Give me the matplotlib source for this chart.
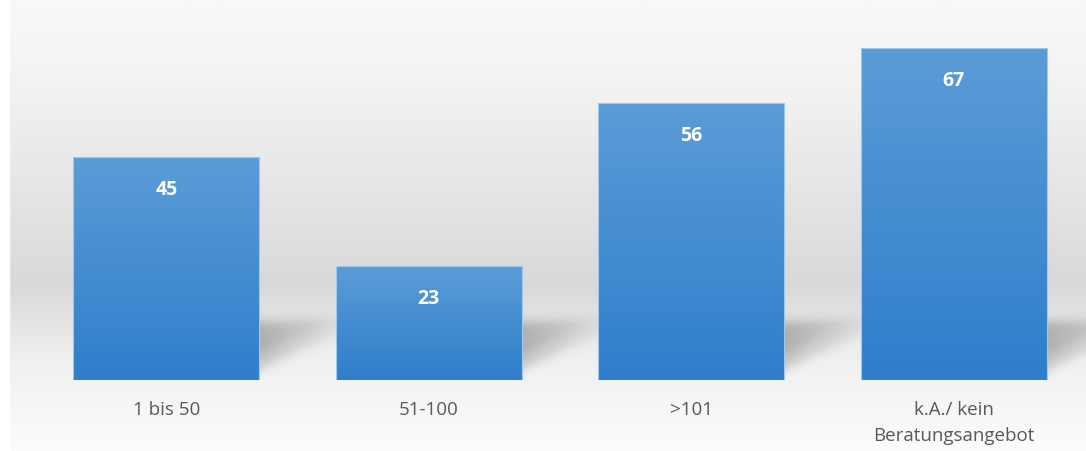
import numpy as np
import matplotlib
matplotlib.use("Agg")
import matplotlib.pyplot as plt
from matplotlib.colors import LinearSegmentedColormap

plt.rcParams["font.family"] = ["Open Sans", "DejaVu Sans"]

# data
categories = ["1 bis 50", "51-100", ">101", "k.A./ kein\nBeratungsangebot"]
values = [45, 23, 56, 67]

fig = plt.figure(figsize=(10.86, 4.51), dpi=100)

# background gradient (whole figure)
bg = fig.add_axes([0, 0, 1, 1], zorder=0)
bg_stops = [(0.0, "#f9f9f9"), (0.22, "#f1f1f1"), (0.63, "#d9d9d9"),
            (0.80, "#f0f0f0"), (1.0, "#fcfcfc")]
bg_cmap = LinearSegmentedColormap.from_list("bg", bg_stops)
grad = np.linspace(0, 1, 256).reshape(-1, 1)
bg.imshow(grad, cmap=bg_cmap, aspect="auto", extent=[0, 1, 0, 1], origin="upper")
bg.axvspan(0, 9 / 1086, color="white", zorder=3)
bg.set_xlim(0, 1)
bg.set_ylim(0, 1)
bg.axis("off")

ax = fig.add_axes([35 / 1086, 71 / 451, 1050 / 1086, 380 / 451], zorder=1)
ax.patch.set_alpha(0)
ax.set_xlim(-0.5, 3.5)
ax.set_ylim(0, 76.8)

x = np.arange(len(categories))
width = 0.71
bars = ax.bar(x, values, width=width, color="none", edgecolor="#9dc9ee",
              linewidth=0.8, zorder=3)

bar_cmap = LinearSegmentedColormap.from_list("bar", ["#5b9cd7", "#2f7ecb"])

# soft perspective shadow to the right of each bar
sh_w, sh_h = 0.3, 16
n = 160
X, Y = np.meshgrid(np.linspace(0, 1, n), np.linspace(0, 1, n))


def sig(z):
    return 1 / (1 + np.exp(-z))


y_low = 0.09 + 0.47 * X
y_up = 0.73 + 0.04 * X
alpha = sig((Y - y_low) / 0.035) * sig((y_up - Y) / 0.04)
alpha *= (0.45 + 0.55 * np.clip((Y - y_low) / 0.3, 0, 1))
alpha *= (1 - 0.75 * X)
alpha *= 0.25
shadow = np.zeros((n, n, 4))
shadow[..., 3] = alpha

for b in bars:
    x0 = b.get_x()
    x1 = x0 + b.get_width()
    h = b.get_height()
    ax.imshow(shadow, extent=[x1, x1 + sh_w, 0, sh_h], origin="lower",
              aspect="auto", zorder=2, interpolation="bilinear")
    im = ax.imshow(grad, cmap=bar_cmap, extent=[x0, x1, 0, h], origin="upper",
                   aspect="auto", zorder=2.5)
    im.set_clip_path(b)

for xi, v in zip(x, values):
    ax.text(xi, v - 6.6, str(v), ha="center", va="center", color="white",
            fontsize=14, fontweight="bold", zorder=4)

ax.set_xlim(-0.5, 3.5)
ax.set_ylim(0, 76.8)
ax.set_xticks(x)
ax.set_xticklabels(categories, fontsize=13.5, color="#595959", linespacing=1.6)
ax.tick_params(axis="x", length=0, pad=15)
ax.set_yticks([])
for s in ax.spines.values():
    s.set_visible(False)

fig.savefig("out.png", dpi=100)
